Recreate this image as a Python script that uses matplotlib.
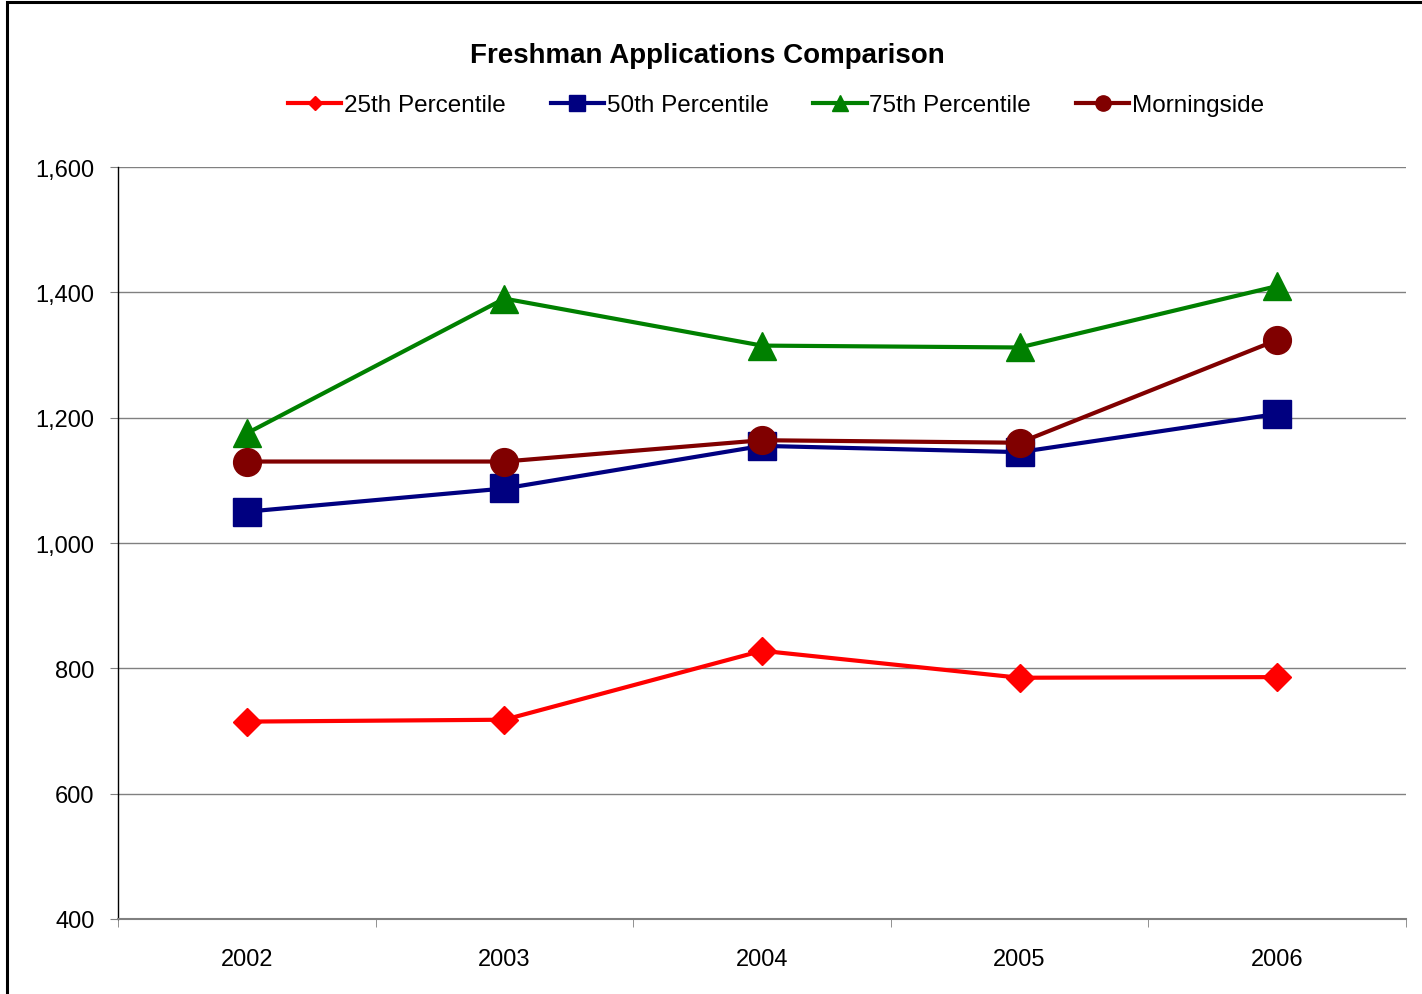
import matplotlib
matplotlib.use("Agg")
import matplotlib.pyplot as plt
from matplotlib.patches import Rectangle
from matplotlib.ticker import FuncFormatter, FixedLocator

plt.rcParams['font.family'] = ['Liberation Sans', 'DejaVu Sans']

years = ["2002", "2003", "2004", "2005", "2006"]
p25 = [715, 718, 828, 785, 786]
p50 = [1050, 1087, 1155, 1145, 1206]
p75 = [1175, 1390, 1315, 1312, 1410]
morningside = [1130, 1130, 1164, 1160, 1324]

W, H = 1422, 995
fig = plt.figure(figsize=(W / 100, H / 100), dpi=100)
fig.patch.set_facecolor('white')

# chart border
fig.patches.append(Rectangle((7 / W, -0.05), 1.1, 1 - 3 / H + 0.05, transform=fig.transFigure,
                             fill=False, edgecolor='black', linewidth=2.2))

ax = fig.add_axes([118 / W, 1 - 920 / H, (1406 - 118) / W, (920 - 168) / H])
x = list(range(len(years)))

series = [
    ("25th Percentile", p25, '#FF0000', 'D', 14, 7.5),
    ("50th Percentile", p50, '#000080', 's', 20, 11),
    ("75th Percentile", p75, '#008000', '^', 20, 11),
    ("Morningside", morningside, '#800000', 'o', 20, 11),
]
handles = []
for name, vals, c, m, ms, lms in series:
    ax.plot(x, vals, color=c, marker=m, markersize=ms, linewidth=3, zorder=3)
    h, = plt.plot([], [], color=c, marker=m, markersize=lms, linewidth=3, label=name)
    handles.append(h)

ax.set_xlim(-0.5, len(years) - 0.5)
ax.set_ylim(400, 1600)
ax.set_yticks(range(400, 1601, 200))
ax.yaxis.set_major_formatter(FuncFormatter(lambda v, p: f"{int(v):,}"))
ax.yaxis.grid(True, color='#808080', linewidth=1)
ax.set_axisbelow(True)

ax.set_xticks(x)
ax.set_xticklabels(years)
ax.xaxis.set_minor_locator(FixedLocator([i - 0.5 for i in range(len(years) + 1)]))
ax.tick_params(axis='x', which='major', length=0, pad=21, labelsize=17)
ax.tick_params(axis='x', which='minor', length=6, color='#808080', direction='out')
ax.tick_params(axis='y', length=6, color='#808080', labelsize=17, pad=11)

for s in ['top', 'right']:
    ax.spines[s].set_visible(False)
ax.spines['left'].set_color('black')
ax.spines['left'].set_linewidth(1)
ax.spines['bottom'].set_color('#808080')
ax.spines['bottom'].set_linewidth(1.5)

fig.text(707 / W, 1 - 56 / H, "Freshman Applications Comparison", ha='center', va='center',
         fontsize=20, fontweight='bold')

fig.legend(handles=handles, loc='center', bbox_to_anchor=(776 / W, 1 - 106 / H), ncol=4,
           frameon=False, fontsize=17.5, handlelength=2.2, handletextpad=0.1, columnspacing=1.85)

fig.savefig("out.png", dpi=100)
